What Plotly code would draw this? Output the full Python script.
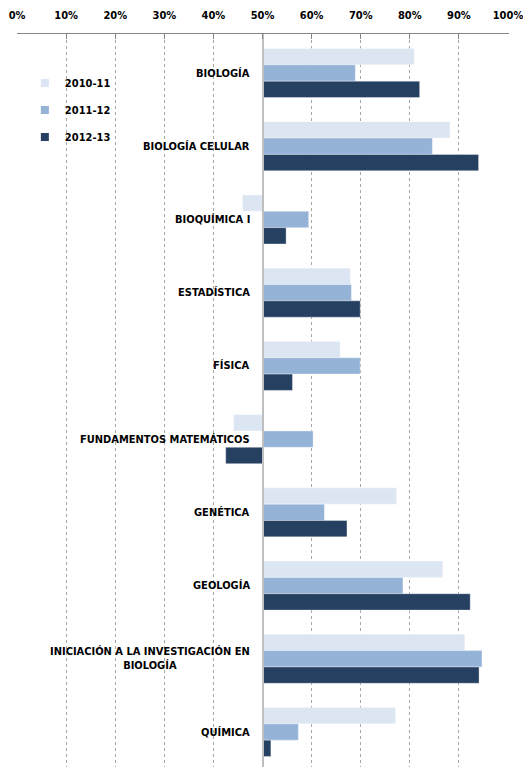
import plotly.graph_objects as go

categories = ["BIOLOGÍA", "BIOLOGÍA CELULAR", "BIOQUÍMICA I", "ESTADÍSTICA", "FÍSICA",
              "FUNDAMENTOS MATEMÁTICOS", "GENÉTICA", "GEOLOGÍA",
              "INICIACIÓN A LA INVESTIGACIÓN EN<br>BIOLOGÍA", "QUÍMICA"]
series_names = ["2010-11", "2011-12", "2012-13"]
v2010 = [0.809, 0.882, 0.459, 0.679, 0.658, 0.441, 0.773, 0.867, 0.912, 0.771]
v2011 = [0.689, 0.846, 0.594, 0.681, 0.699, 0.603, 0.626, 0.786, 0.947, 0.573]
v2012 = [0.820, 0.940, 0.548, 0.699, 0.561, 0.425, 0.672, 0.923, 0.941, 0.517]
tick_vals = [0, 0.1, 0.2, 0.3, 0.4, 0.5, 0.6, 0.7, 0.8, 0.9, 1.0]
tick_text = ["0%", "10%", "20%", "30%", "40%", "50%", "60%", "70%", "80%", "90%", "100%"]
base_value = 0.5
colors = ["#DCE6F2", "#95B3D7", "#254061"]

FONT = "DejaVu Sans Condensed, Liberation Sans Narrow, Arial Narrow, sans-serif"

fig = go.Figure()
for name, vals, col in zip(series_names, [v2010, v2011, v2012], colors):
    fig.add_trace(go.Bar(
        y=list(range(len(categories))),
        x=[v - base_value for v in vals],
        base=base_value,
        orientation="h",
        name=name,
        marker=dict(color=col, line=dict(color="rgba(255,255,255,0.6)", width=0.6)),
        showlegend=False,
    ))

legends = ["legend", "legend2", "legend3"]
# legend rows at about 83, 110 and 137 px from the top of the window
plot_top, plot_h = 34, 733
ly = [1 - (py - plot_top) / plot_h for py in (83, 110, 137)]
for name, col, lg in zip(series_names, colors, legends):
    fig.add_trace(go.Scatter(
        x=[None], y=[None], mode="markers", name="<b>" + name + "</b>",
        marker=dict(symbol="square", size=8, color=col),
        legend=lg, showlegend=True,
    ))

for i, cat in enumerate(categories):
    fig.add_annotation(
        x=base_value, y=i, xref="x", yref="y",
        text="<b>" + cat + "</b>", showarrow=False,
        xanchor="right", yanchor="middle", xshift=-11, align="center",
        font=dict(family=FONT, size=11, color="#000000"),
    )

leg_common = dict(x=0.016, xanchor="left", yanchor="middle", bgcolor="rgba(0,0,0,0)",
                  font=dict(family=FONT, size=11, color="#000000"), itemwidth=30,
                  tracegroupgap=0)
fig.update_layout(
    width=523, height=767,
    margin=dict(l=16.5, r=13.5, t=34, b=0, autoexpand=False),
    paper_bgcolor="white", plot_bgcolor="white",
    barmode="group", bargap=0.33, bargroupgap=0,
    hovermode=False,
    legend=dict(y=ly[0], **leg_common),
    legend2=dict(y=ly[1], **leg_common),
    legend3=dict(y=ly[2], **leg_common),
    xaxis=dict(
        side="top", range=[-0.0001, 1.002], tickvals=tick_vals,
        ticktext=["<b>" + t + "</b>" for t in tick_text],
        tickfont=dict(family=FONT, size=11, color="#000000"),
        showline=True, linecolor="#868686", linewidth=1,
        ticks="inside", ticklen=5, tickcolor="#868686",
        ticklabelstandoff=10, automargin=False, ticklabeloverflow="allow",
        showgrid=True, gridcolor="#A6A6A6", griddash="dot", gridwidth=1,
        zeroline=False, fixedrange=True,
    ),
    yaxis=dict(
        range=[9.478, -0.533], anchor="free", position=0.5,
        showticklabels=False, ticks="", showgrid=False, zeroline=False,
        showline=True, linecolor="#BFBFBF", linewidth=2, automargin=False,
        fixedrange=True,
    ),
)

# remove the default 8px page margin so the figure fills the window exactly
fig.write_html("out.html",
               config={"displayModeBar": False, "staticPlot": True},
               post_script="document.body.style.margin='0';document.body.style.overflow='hidden';")
